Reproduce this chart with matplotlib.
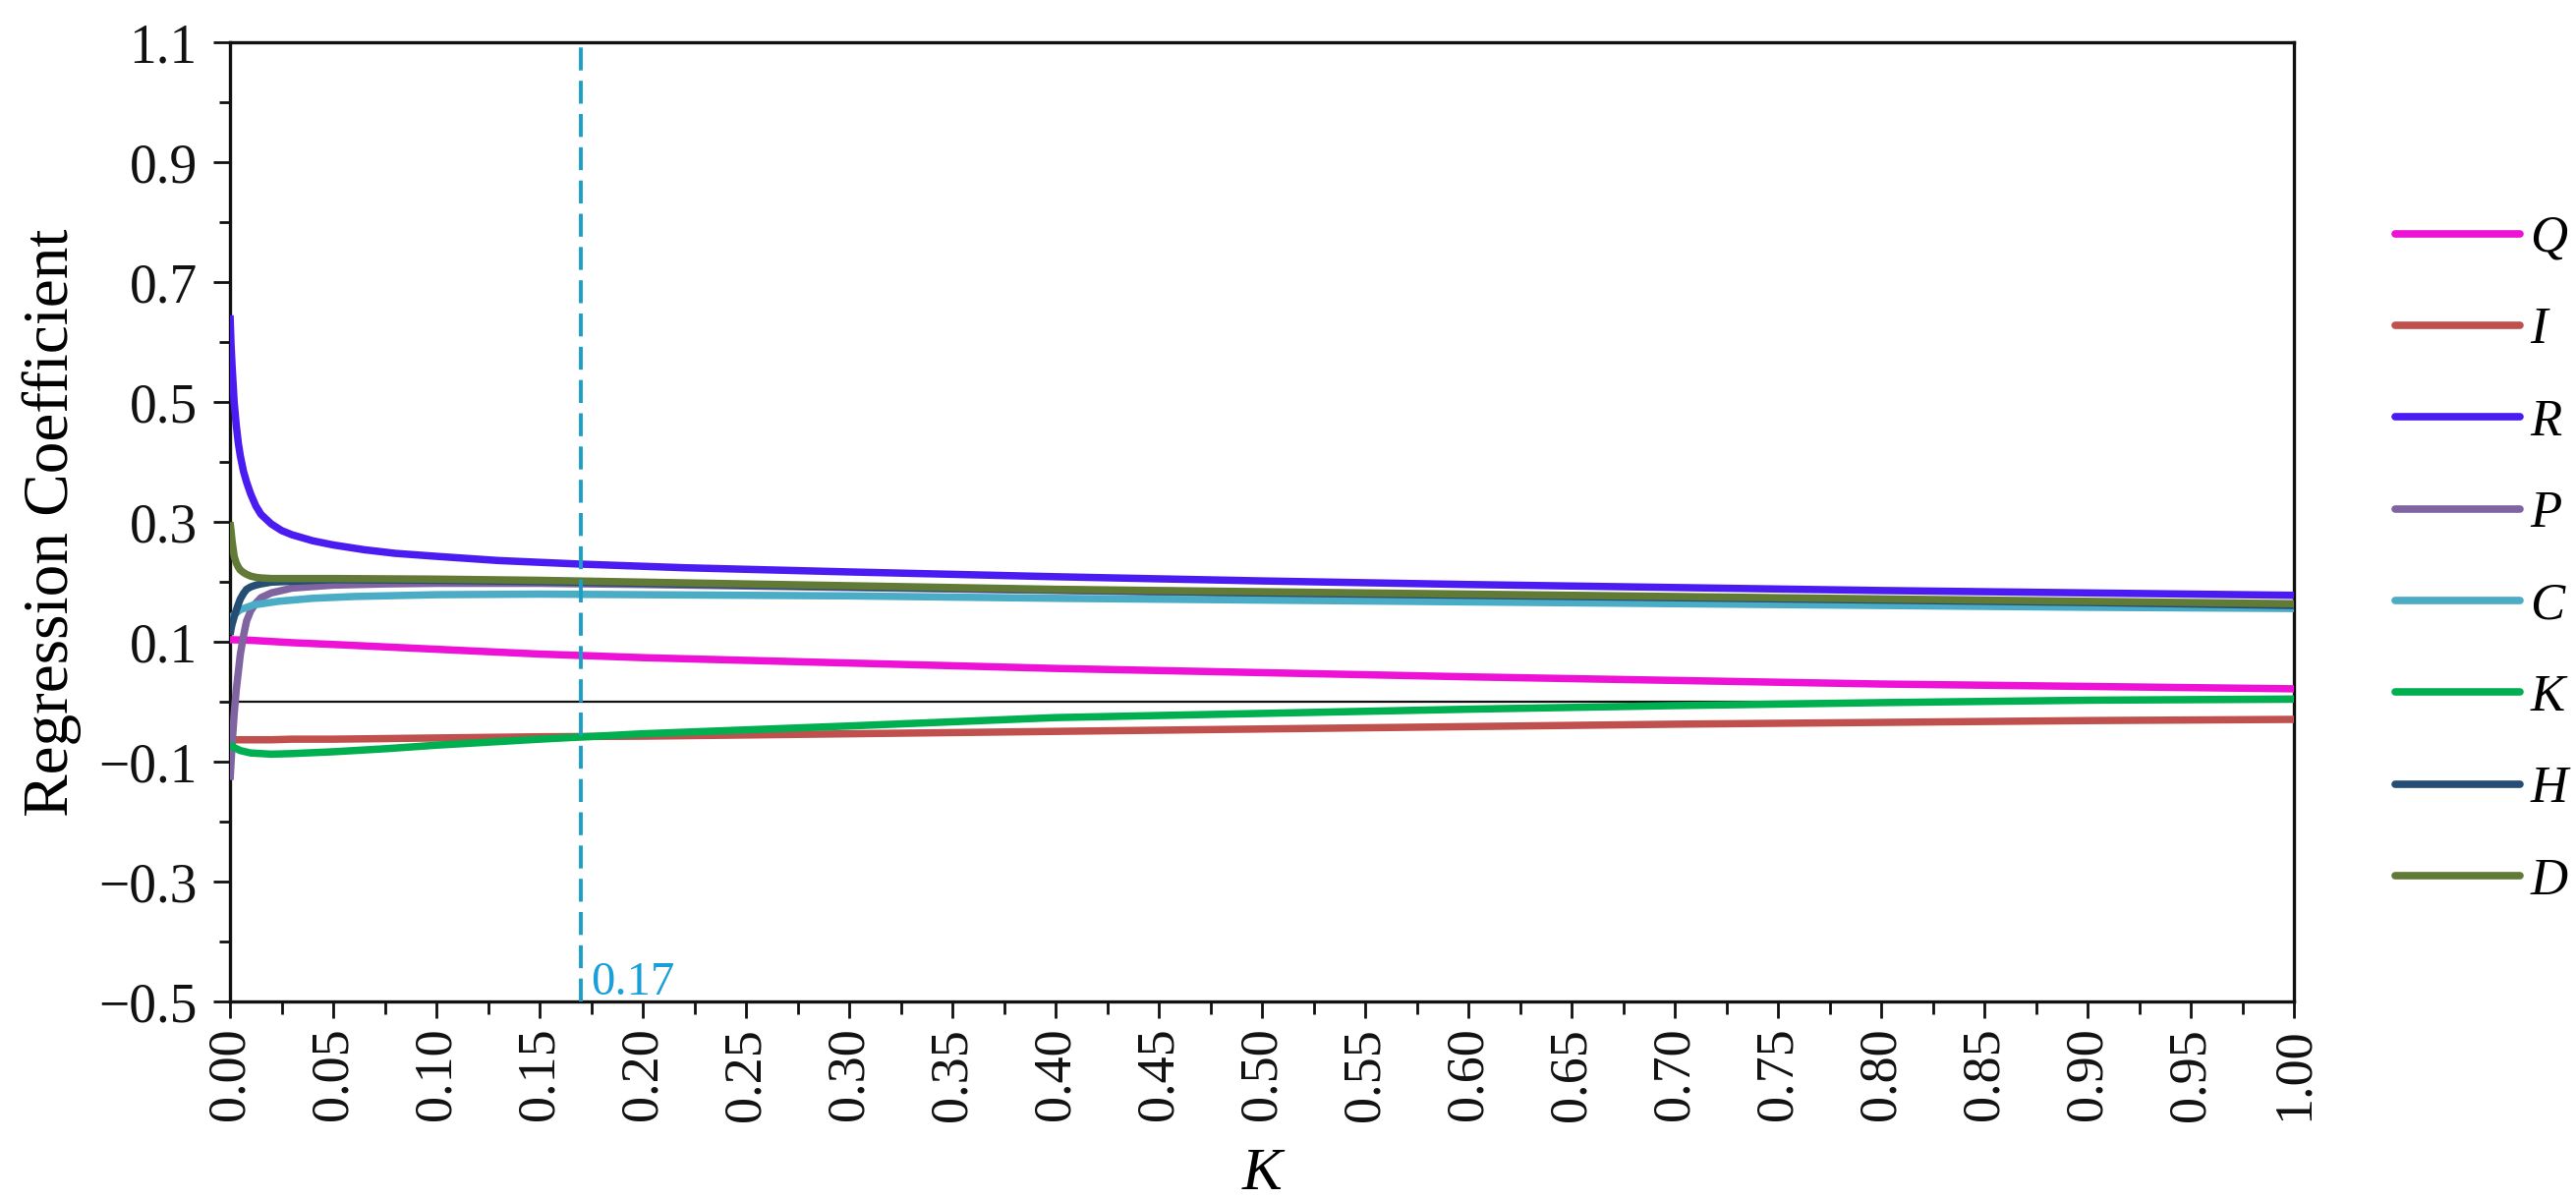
import matplotlib
matplotlib.use("Agg")
import matplotlib.pyplot as plt
from matplotlib.ticker import MultipleLocator, FixedLocator

# ---------------- data ----------------
series_names = ["Q", "I", "R", "P", "C", "K", "H", "D"]
series_colors = ["#EE12D6", "#C0504D", "#4A1CF2", "#8064A2",
                 "#4BACC6", "#00B050", "#254E74", "#617A35"]

k_slow = [0, 0.01, 0.02, 0.03, 0.05, 0.075, 0.1, 0.15, 0.2, 0.3, 0.4, 0.5, 0.6, 0.7, 0.8, 0.9, 1.0]
Q = [0.104, 0.103, 0.101, 0.099, 0.096, 0.092, 0.088, 0.080, 0.074, 0.065, 0.056,
     0.049, 0.042, 0.036, 0.030, 0.026, 0.022]
I = [-0.063, -0.063, -0.063, -0.062, -0.062, -0.061, -0.060, -0.058, -0.057, -0.053, -0.049,
     -0.045, -0.041, -0.037, -0.034, -0.031, -0.029]

k_K = [0, 0.002, 0.005, 0.01, 0.015, 0.02, 0.03, 0.05, 0.075, 0.1, 0.15, 0.2, 0.3, 0.4,
       0.5, 0.6, 0.7, 0.8, 0.9, 1.0]
Kc = [-0.070, -0.076, -0.081, -0.085, -0.086, -0.087, -0.086, -0.083, -0.078, -0.072, -0.062,
      -0.053, -0.040, -0.026, -0.019, -0.012, -0.006, -0.001, 0.003, 0.005]

k_R = [0, 0.0005, 0.001, 0.002, 0.003, 0.004, 0.005, 0.0065, 0.008, 0.01, 0.0125, 0.015,
       0.02, 0.025, 0.03, 0.04, 0.05, 0.065, 0.08, 0.1, 0.13, 0.17, 0.22, 0.3, 0.4, 0.5,
       0.6, 0.7, 0.8, 0.9, 1.0]
R = [0.645, 0.595, 0.560, 0.500, 0.462, 0.432, 0.410, 0.385, 0.367, 0.347, 0.327, 0.313,
     0.297, 0.286, 0.279, 0.269, 0.262, 0.254, 0.248, 0.243, 0.236, 0.230, 0.224, 0.217,
     0.209, 0.202, 0.196, 0.191, 0.186, 0.182, 0.178]

k_P = [0, 0.0005, 0.001, 0.002, 0.003, 0.004, 0.005, 0.0065, 0.008, 0.01, 0.0125, 0.015,
       0.02, 0.03, 0.05, 0.075, 0.1, 0.15, 0.2, 0.3, 0.4, 0.5, 0.6, 0.7, 0.8, 0.9, 1.0]
P = [-0.130, -0.100, -0.070, -0.020, 0.020, 0.050, 0.080, 0.110, 0.135, 0.152, 0.165, 0.174,
     0.182, 0.190, 0.195, 0.197, 0.198, 0.198, 0.196, 0.191, 0.186, 0.181, 0.177, 0.173,
     0.169, 0.165, 0.161]

k_C = [0, 0.002, 0.005, 0.0115, 0.0235, 0.04, 0.06, 0.1, 0.15, 0.2, 0.3, 0.4, 0.5, 0.6,
       0.7, 0.8, 0.9, 1.0]
C = [0.139, 0.146, 0.154, 0.162, 0.168, 0.173, 0.176, 0.179, 0.180, 0.179, 0.177, 0.173,
     0.170, 0.167, 0.164, 0.161, 0.158, 0.156]

k_HD = [0, 0.0005, 0.001, 0.002, 0.003, 0.004, 0.005, 0.0065, 0.008, 0.01, 0.0125, 0.015,
        0.02, 0.05, 0.1, 0.15, 0.2, 0.3, 0.4, 0.5, 0.6, 0.7, 0.8, 0.9, 1.0]
H = [0.112, 0.122, 0.130, 0.142, 0.153, 0.163, 0.172, 0.181, 0.188, 0.192, 0.195, 0.197,
     0.200, 0.204, 0.203, 0.201, 0.198, 0.192, 0.187, 0.182, 0.178, 0.174, 0.170, 0.166, 0.161]
D = [0.300, 0.285, 0.268, 0.243, 0.232, 0.225, 0.220, 0.216, 0.213, 0.210, 0.208, 0.207,
     0.206, 0.206, 0.205, 0.203, 0.200, 0.194, 0.188, 0.184, 0.180, 0.176, 0.172, 0.168, 0.164]

series_k = [k_slow, k_slow, k_R, k_P, k_C, k_K, k_HD, k_HD]
series_values = [Q, I, R, P, C, Kc, H, D]

k_opt = 0.17
y_ticks = [-0.5, -0.3, -0.1, 0.1, 0.3, 0.5, 0.7, 0.9, 1.1]
x_ticks = [round(0.05 * i, 2) for i in range(21)]

# ---------------- figure ----------------
plt.rcParams["font.family"] = ["Liberation Serif", "DejaVu Serif"]

fig = plt.figure(figsize=(26.21, 12.20), dpi=100)
ax = fig.add_axes([0.0893, 0.1645, 0.8012, 0.80])

lines = []
for name, ks, vals, col in zip(series_names, series_k, series_values, series_colors):
    ln, = ax.plot(ks, vals, color=col, lw=5.4, label=name,
                  solid_capstyle="butt", solid_joinstyle="round", zorder=3)
    lines.append(ln)

ax.axhline(0, color="#111111", lw=1.6, zorder=2)
ax.axvline(k_opt, color="#1B9FC9", lw=2.8, dashes=(6, 2.7), zorder=4)
ax.annotate(f"{k_opt:.2f}", xy=(k_opt, -0.5), xytext=(7, 5), textcoords="offset points",
            color="#1A9FD8", fontsize=35, ha="left", va="baseline")

ax.set_xlim(0, 1)
ax.set_ylim(-0.5, 1.1)
ax.xaxis.set_major_locator(FixedLocator(x_ticks))
ax.xaxis.set_minor_locator(MultipleLocator(0.025))
ax.yaxis.set_major_locator(FixedLocator(y_ticks))
ax.yaxis.set_minor_locator(MultipleLocator(0.1))
ax.set_xticklabels([f"{t:.2f}" for t in x_ticks], rotation=90)
ax.set_yticklabels([f"{t:.1f}".replace("-", "\u2212") for t in y_ticks])

ax.tick_params(axis="both", which="both", direction="out", top=False, right=False,
               width=2.0, colors="#111111")
ax.tick_params(axis="x", which="major", length=12, labelsize=39, pad=7)
ax.tick_params(axis="y", which="major", length=12, labelsize=40, pad=12)
ax.tick_params(axis="x", which="minor", length=9)
ax.tick_params(axis="y", which="minor", length=8)

for sp in ax.spines.values():
    sp.set_linewidth(2.4)
    sp.set_color("#111111")

ax.set_ylabel("Regression Coefficient", fontsize=47)
ax.yaxis.set_label_coords(-0.072, 0.5)
ax.set_xlabel("K", fontsize=44, style="italic")
ax.xaxis.set_label_coords(0.5, -0.152)

leg = ax.legend(handles=lines, loc="upper left", bbox_to_anchor=(0.9298, 0.8205),
                bbox_transform=fig.transFigure, frameon=False, borderaxespad=0,
                borderpad=0, handlelength=2.4, handletextpad=0.2, labelspacing=0.86,
                prop={"size": 38, "style": "italic", "family": "Liberation Serif"})
for lh in leg.get_lines():
    lh.set_linewidth(5.5)
    lh.set_solid_capstyle("round")

fig.savefig("out.png", dpi=100, facecolor="white")
